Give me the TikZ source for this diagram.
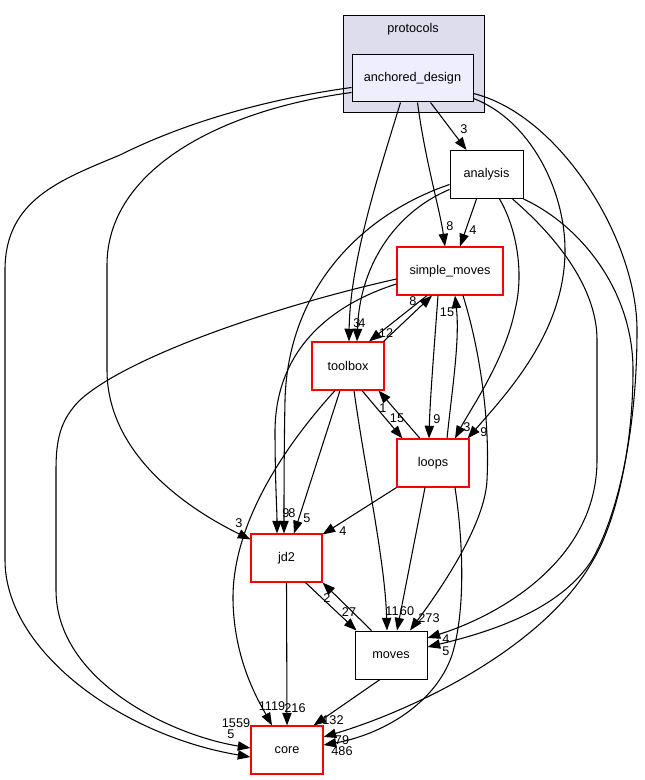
\documentclass[tikz,border=0pt]{standalone}
\usepackage{fontspec}
\setmainfont{Liberation Sans}
\usetikzlibrary{arrows.meta,calc}
\definecolor{clusterfill}{HTML}{DDDDEE}
\definecolor{dirfill}{HTML}{EEEEFF}

\begin{document}
\begin{tikzpicture}[x=0.75pt,y=-0.75pt,
    dirbox/.style={draw,fill=white,inner sep=0pt,minimum width=54pt,minimum height=36pt,
      line width=0.75pt,font=\fontsize{9.5}{11}\selectfont},
    reddir/.style={dirbox,draw=red,line width=0.85pt},
    dep/.style={line width=0.8pt,-{Triangle[length=9.5pt,width=7pt]}},
    num/.style={inner sep=0pt,font=\fontsize{9.5}{11}\selectfont}]
  \useasboundingbox (0,0) rectangle (644,780);
  % the protocols cluster
  \draw[fill=clusterfill,line width=0.75pt] (343,16) rectangle (484,113);
  \node[num] (protocols) at (413,29) {protocols};
  \node[dirbox,fill=dirfill,minimum width=90.75pt,minimum height=35.25pt] (ad) at (412.5,78.5) {anchored\_design};
  % directories
  \node[dirbox,minimum width=54.75pt] (analysis) at (486.5,174.5) {analysis};
  \node[reddir,minimum width=79.5pt] (sm) at (450,271) {simple\_moves};
  \node[reddir] (toolbox) at (348,366) {toolbox};
  \node[reddir] (loops) at (433,463) {loops};
  \node[reddir,minimum width=53.25pt] (jd2) at (286.5,558) {jd2};
  \node[dirbox] (moves) at (391,655) {moves};
  \node[reddir] (core) at (287,750) {core};

  % anchored_design
  \draw[dep] ($(ad.south)+(18,0)$) -- ($(analysis.north)+(-20,0)$);
  \draw[dep] ($(ad.south)+(5,0)$) .. controls (425,160) and (440,210) .. ($(sm.north)+(-5,0)$);
  \draw[dep] ($(ad.south)+(-12,0)$) .. controls (380,170) and (350,260) .. ($(toolbox.north)+(1,0)$);
  \draw[dep] ($(ad.east)+(0,20)$) .. controls (530,120) and (565,190) .. (565,250)
    .. controls (565,330) and (510,390) .. ($(loops.north east)+(-2,0)$);
  \draw[dep] ($(ad.west)+(0,14)$) .. controls (220,110) and (107,170) .. (107,265) -- (107,370)
    .. controls (107,450) and (180,505) .. ($(jd2.north west)+(0,6)$);
  \draw[dep] ($(ad.west)+(0,9)$) .. controls (260,100) and (180,125) .. (120,155)
    .. controls (60,180) and (5,200) .. (5,270) -- (5,560)
    .. controls (5,650) and (120,735) .. ($(core.west)+(0,7)$);
  \draw[dep] ($(ad.east)+(0,15)$) .. controls (560,115) and (637,240) .. (637,330)
    .. controls (637,440) and (615,520) .. (592,560)
    .. controls (560,610) and (490,632) .. ($(moves.east)+(0,-8)$);

  % analysis
  \draw[dep] ($(analysis.south)+(-10,0)$) -- ($(sm.north)+(10,0)$);
  \draw[dep] ($(analysis.west)+(0,15)$) .. controls (400,210) and (360,260) .. ($(toolbox.north)+(9,0)$);
  \draw[dep] ($(analysis.south)+(13,0)$) .. controls (515,225) and (525,270) .. (515,310)
    .. controls (505,360) and (470,410) .. ($(loops.north)+(22,0)$);
  \draw[dep] ($(analysis.west)+(0,10)$) .. controls (360,215) and (288,290) .. (285,400)
    .. controls (284,450) and (284,500) .. ($(jd2.north)+(-2.5,0)$);
  \draw[dep] ($(analysis.south)+(26,0)$) .. controls (560,240) and (597,290) .. (597,340) -- (597,460)
    .. controls (597,560) and (500,615) .. ($(moves.east)+(0,-17)$);
  \draw[dep] (analysis.south east) .. controls (580,225) and (633,290) .. (633,370)
    .. controls (633,450) and (615,525) .. (592,562)
    .. controls (545,645) and (420,708) .. ($(core.east)+(0,-13)$);

  % simple_moves
  \draw[dep] ($(sm.south)+(-12,0)$) .. controls (434,350) and (430,400) .. ($(loops.north)+(-4,0)$);
  \draw[dep] ($(sm.south)+(-23,0)$) -- ($(toolbox.north)+(21,0)$);
  \draw[dep] ($(sm.west)+(0,13)$) .. controls (330,305) and (276,350) .. (275,430)
    .. controls (275,480) and (277,510) .. ($(jd2.north)+(-9.5,0)$);
  \draw[dep] ($(sm.west)+(0,8)$) .. controls (280,305) and (130,355) .. (80,400)
    .. controls (60,420) and (56,440) .. (56,470) -- (56,590)
    .. controls (56,680) and (170,735) .. ($(core.west)+(0,-2)$);
  \draw[dep] ($(sm.south)+(13,0)$) .. controls (480,350) and (490,420) .. (487,480)
    .. controls (485,525) and (440,590) .. ($(moves.north)+(19,0)$);

  % toolbox
  \draw[dep] ($(toolbox.north east)+(-1,0)$) -- ($(sm.south)+(-18,0)$);
  \draw[dep] ($(toolbox.south)+(14,0)$) -- ($(loops.north west)+(6,0)$);
  \draw[dep] ($(toolbox.south)+(-8,0)$) -- ($(jd2.north)+(7.5,0)$);
  \draw[dep] ($(toolbox.south)+(6,0)$) .. controls (365,470) and (385,560) .. ($(moves.north)+(-4,0)$);
  \draw[dep] ($(toolbox.south)+(-13,0)$) .. controls (290,440) and (232,520) .. (233,600)
    .. controls (234,660) and (258,700) .. ($(core.north)+(-15,0)$);

  % loops
  \draw[dep] ($(loops.north)+(14,0)$) .. controls (452,390) and (460,340) .. ($(sm.south)+(5,0)$);
  \draw[dep] ($(loops.north)+(-13,0)$) -- ($(toolbox.south east)+(-6,0)$);
  \draw[dep] (loops.south west) -- ($(jd2.north east)+(0,1)$);
  \draw[dep] ($(loops.south)+(-8,0)$) -- ($(moves.north)+(6,0)$);
  \draw[dep] ($(loops.south)+(22,0)$) .. controls (463,540) and (466,610) .. (452,655)
    .. controls (435,705) and (380,735) .. ($(core.east)+(0,-5)$);

  % jd2, moves
  \draw[dep] ($(jd2.south)+(19,0)$) -- ($(moves.north west)+(2,0)$);
  \draw[dep] (jd2.south) -- (core.north);
  \draw[dep] ($(moves.north west)+(17,0)$) -- (jd2.south east);
  \draw[dep] ($(moves.south)+(-11,0)$) -- ($(core.north east)+(-10,0)$);

  % edge counts
  \node[num] (c1) at (464,129) {3};
  \node[num] (c2) at (450,226) {8};
  \node[num] (c3) at (473,230) {4};
  \node[num] (c4) at (357,323) {3};
  \node[num] (c5) at (362,323) {4};
  \node[num] (c6) at (413,301) {8};
  \node[num] (c7) at (386,333) {12};
  \node[num] (c8) at (447,312) {15};
  \node[num] (c9) at (437,419) {9};
  \node[num] (c10) at (397,418) {15};
  \node[num] (c11) at (383,408) {1};
  \node[num] (c12) at (467,427) {3};
  \node[num] (c13) at (484,432) {9};
  \node[num] (c14) at (286,513) {9};
  \node[num] (c15) at (292,513) {8};
  \node[num] (c16) at (307,518) {5};
  \node[num] (c17) at (239,523) {3};
  \node[num] (c18) at (343,531) {4};
  \node[num] (c19) at (327,598) {2};
  \node[num] (c20) at (349,612) {27};
  \node[num] (c21) at (392,611) {11};
  \node[num] (c22) at (407,611) {60};
  \node[num] (c23) at (429,618) {273};
  \node[num] (c24) at (446,639) {4};
  \node[num] (c25) at (446,651) {5};
  \node[num] (c26) at (272,706) {1119};
  \node[num] (c27) at (295,708) {216};
  \node[num] (c28) at (236,723) {1559};
  \node[num] (c29) at (231,734) {5};
  \node[num] (c30) at (333,720) {132};
  \node[num] (c31) at (342,740) {79};
  \node[num] (c32) at (342,751) {486};
\end{tikzpicture}
\end{document}
